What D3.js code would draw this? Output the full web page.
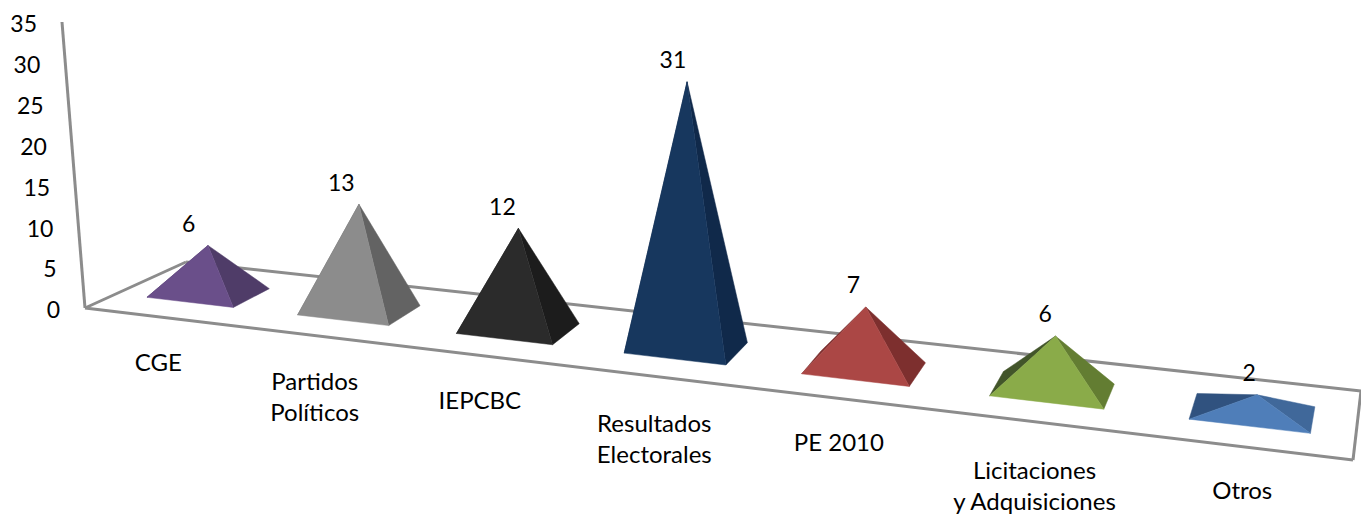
<!DOCTYPE html>
<html><head><meta charset="utf-8">
<script src="https://cdn.jsdelivr.net/npm/d3@7/dist/d3.min.js"></script>
<style>html,body{margin:0;padding:0;background:#fff;overflow:hidden}text{font-family:Lato,sans-serif;fill:#000}</style>
</head><body><svg id="c" width="1361" height="515"></svg>
<script>
const categories = ["CGE","Partidos|Políticos","IEPCBC","Resultados|Electorales","PE 2010","Licitaciones|y Adquisiciones","Otros"];
const values = [6,13,12,31,7,6,2];
const yTicks = [0,5,10,15,20,25,30,35];
const frontColors = ["#6a4f8a","#8c8c8c","#2b2b2b","#17375e","#ab4745","#8aab49","#4f7eb9"];
const rightColors = ["#4f3c68","#636363","#1c1c1c","#10294a","#7d2f2e","#637d32","#40689a"];
const leftColors  = ["#4f3c68","#636363","#1c1c1c","#10294a","#7d2f2e","#42552a","#30527f"];

const W=1361,H=515;
const svg=d3.select("#c").attr("viewBox",`0 0 ${W} ${H}`);
// floor corners of the 3D box in screen space
const FL=[85,308],FR=[1353,460],BL=[186,262],BR=[1361,391],AT=[62,22];
const persp=.82;
const sOf=u=>u*persp/(1-u+u*persp);
const band=d3.scaleBand().domain(d3.range(categories.length)).range([0,1]).paddingInner(.42).paddingOuter(.21);
const lerp=(a,b,t)=>[a[0]+(b[0]-a[0])*t,a[1]+(b[1]-a[1])*t];
const floor=(u,v)=>{const s=sOf(u);return lerp(lerp(FL,FR,s),lerp(BL,BR,s),v);};
const yPx=d3.scaleLinear().domain([0,1]).range([7.9,9.45]); // px per unit by depth across chart
const yAxisT=d3.scaleLinear().domain([0,35]).range([0,1]);

const gridG=svg.append("g").attr("fill","none").attr("stroke","#8c8c8c").attr("stroke-width",3);
[[AT,FL],[FL,BL],[BL,BR],[FL,FR],[FR,BR]].forEach(l=>gridG.append("path").attr("d",d3.line()(l)));

const V0=.31,V1=.70;
const marks=svg.append("g");
values.forEach((val,i)=>{
  const a=band(i),b=a+band.bandwidth(),c=a+band.bandwidth()/2;
  const s=sOf(c);
  const p=floor(c,.5);
  const apex=[p[0]+s*s*6,p[1]-val*yPx(s)];
  const fl=floor(a,V0),fr=floor(b,V0),br=floor(b,V1),bl=floor(a,V1);
  const g=marks.append("g");
  const face=(pts,col)=>g.append("path").attr("d",d3.line()(pts)+"Z").attr("fill",col).attr("stroke",col).attr("stroke-width",.5);
  face([fl,bl,apex],leftColors[i]);
  face([fr,br,apex],rightColors[i]);
  face([fl,fr,apex],frontColors[i]);
  svg.append("text").attr("x",apex[0]-20+s*13).attr("y",apex[1]-22).attr("dy",".36em")
    .attr("text-anchor","middle").attr("font-size",23).text(val);
  const f=floor(c,0);
  const lines=categories[i].split("|");
  lines.forEach((line,k)=>{
    const extra=lines.length>1?s*5:-s*2;
    svg.append("text").attr("x",f[0]-2).attr("y",f[1]+45+extra+k*31).attr("dy",".36em")
      .attr("text-anchor","middle").attr("font-size",24).text(line);
  });
});
yTicks.forEach(t=>{
  const q=lerp(FL,AT,yAxisT(t));
  svg.append("text").attr("x",q[0]-25).attr("y",q[1]+2).attr("dy",".36em")
    .attr("text-anchor","end").attr("font-size",23).text(t);
});
</script></body></html>
